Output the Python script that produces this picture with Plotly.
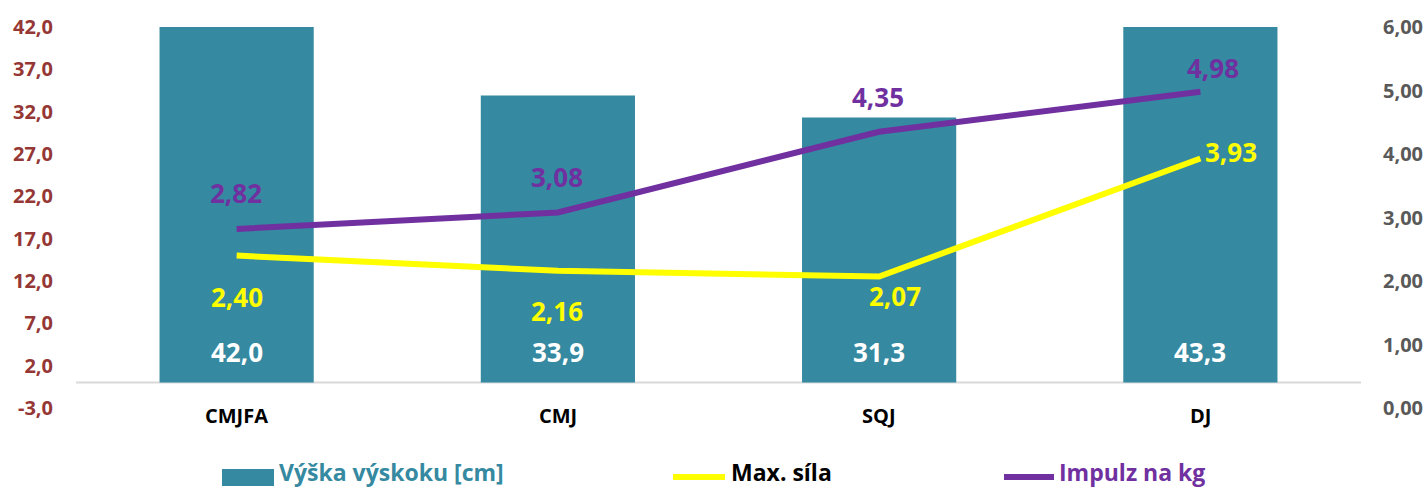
import plotly.graph_objects as go

# --- data -------------------------------------------------------------
categories = ["CMJFA", "CMJ", "SQJ", "DJ"]
jump_height_cm = [42.0, 33.9, 31.3, 43.3]      # Výška výskoku [cm]
max_force = [2.40, 2.16, 2.07, 3.93]           # Max. síla
impulse_per_kg = [2.82, 3.08, 4.35, 4.98]      # Impulz na kg

left_ticks = [-3, 2, 7, 12, 17, 22, 27, 32, 37, 42]
right_ticks = [0, 1, 2, 3, 4, 5, 6]

# --- styling ----------------------------------------------------------
W, H = 1427, 489
PLOT_L, PLOT_R, PLOT_T, PLOT_B = 76, 1361, 27, 408
FONT = "Open Sans"
TEAL = "#3589A0"
YELLOW = "#FFFF00"
PURPLE = "#7030A0"
LEFT_TICK_COLOR = "#953735"
RIGHT_TICK_COLOR = "#595959"

# label offsets in pixels (xshift, yshift)
force_label_shift = [(0, -41), (-1, -40), (16, -19), (31, 6)]
impulse_label_shift = [(-1, 36), (-1, 35), (-1, 35), (13, 24)]


def px_x(px):
    return (px - PLOT_L) / (PLOT_R - PLOT_L)


def px_y(py):
    return (PLOT_B - py) / (PLOT_B - PLOT_T)


def dec(v, n):
    return f"{v:.{n}f}".replace(".", ",")


fig = go.Figure()

fig.add_trace(go.Bar(
    x=categories, y=jump_height_cm, name="Výška výskoku [cm]",
    marker=dict(color=TEAL, line=dict(width=0)),
    width=0.48, yaxis="y", showlegend=False, hoverinfo="x+y",
))
fig.add_trace(go.Scatter(
    x=categories, y=max_force, name="Max. síla", mode="lines",
    line=dict(color=YELLOW, width=6), yaxis="y2", showlegend=False,
))
fig.add_trace(go.Scatter(
    x=categories, y=impulse_per_kg, name="Impulz na kg", mode="lines",
    line=dict(color=PURPLE, width=6), yaxis="y2", showlegend=False,
))

annotations = []
# bar values, near the base of each bar
for c, v in zip(categories, jump_height_cm):
    annotations.append(dict(
        x=c, y=0, xref="x", yref="y", text=f"<b>{dec(v, 1)}</b>",
        showarrow=False, yshift=31, yanchor="middle",
        font=dict(family=FONT, size=26, color="white"),
    ))
# line values
for c, v, (dx, dy) in zip(categories, max_force, force_label_shift):
    annotations.append(dict(
        x=c, y=v, xref="x", yref="y2", text=f"<b>{dec(v, 2)}</b>",
        showarrow=False, xshift=dx, yshift=dy, yanchor="middle",
        font=dict(family=FONT, size=26, color=YELLOW),
    ))
for c, v, (dx, dy) in zip(categories, impulse_per_kg, impulse_label_shift):
    annotations.append(dict(
        x=c, y=v, xref="x", yref="y2", text=f"<b>{dec(v, 2)}</b>",
        showarrow=False, xshift=dx, yshift=dy, yanchor="middle",
        font=dict(family=FONT, size=26, color=PURPLE),
    ))
# category labels
for c in categories:
    annotations.append(dict(
        x=c, y=px_y(415), xref="x", yref="paper", text=f"<b>{c}</b>",
        showarrow=False, yanchor="middle",
        font=dict(family=FONT, size=20, color="black"),
    ))

# legend
LEG_Y = 477
shapes = [
    # horizontal axis line at zero
    dict(type="line", xref="paper", yref="y", x0=0, x1=1, y0=0, y1=0,
         line=dict(color="#D9D9D9", width=2), layer="below"),
    dict(type="rect", xref="paper", yref="paper",
         x0=px_x(222), x1=px_x(274), y0=px_y(486), y1=px_y(469),
         fillcolor=TEAL, line=dict(width=0)),
    dict(type="line", xref="paper", yref="paper",
         x0=px_x(673), x1=px_x(725), y0=px_y(LEG_Y), y1=px_y(LEG_Y),
         line=dict(color=YELLOW, width=6)),
    dict(type="line", xref="paper", yref="paper",
         x0=px_x(1004), x1=px_x(1054), y0=px_y(LEG_Y), y1=px_y(LEG_Y),
         line=dict(color=PURPLE, width=6)),
]
legend_items = [
    (278, "Výška výskoku [cm]", TEAL),
    (730, "Max. síla", "black"),
    (1058, "Impulz na kg", PURPLE),
]
for x0, txt, col in legend_items:
    annotations.append(dict(
        x=px_x(x0), y=px_y(H), xref="paper", yref="paper",
        text=f"<b>{txt}</b>", showarrow=False, xanchor="left", yanchor="bottom",
        borderpad=0, font=dict(family=FONT, size=23, color=col),
    ))

fig.update_layout(
    width=W, height=H,
    margin=dict(l=PLOT_L, r=W - PLOT_R, t=PLOT_T, b=H - PLOT_B, autoexpand=False),
    paper_bgcolor="white", plot_bgcolor="white",
    font=dict(family=FONT),
    showlegend=False,
    bargap=0.52,
    xaxis=dict(type="category", range=[-0.5, 3.5], showticklabels=False,
               showgrid=False, zeroline=False, showline=False, ticks="",
               automargin=False),
    yaxis=dict(range=[-3, 42], tickvals=left_ticks,
               ticktext=[f"<b>{dec(t, 1)}</b>" for t in left_ticks],
               tickfont=dict(family=FONT, size=20, color=LEFT_TICK_COLOR),
               showgrid=False, zeroline=False, showline=False, ticks="",
               ticklabelstandoff=22, automargin=False),
    yaxis2=dict(range=[0, 6], overlaying="y", side="right", tickvals=right_ticks,
                ticktext=[f"<b>{dec(t, 2)}</b>" for t in right_ticks],
                tickfont=dict(family=FONT, size=20, color=RIGHT_TICK_COLOR),
                showgrid=False, zeroline=False, showline=False, ticks="",
                ticklabelstandoff=21, automargin=False),
    annotations=annotations,
    shapes=shapes,
)

fig.write_html("out.html")
